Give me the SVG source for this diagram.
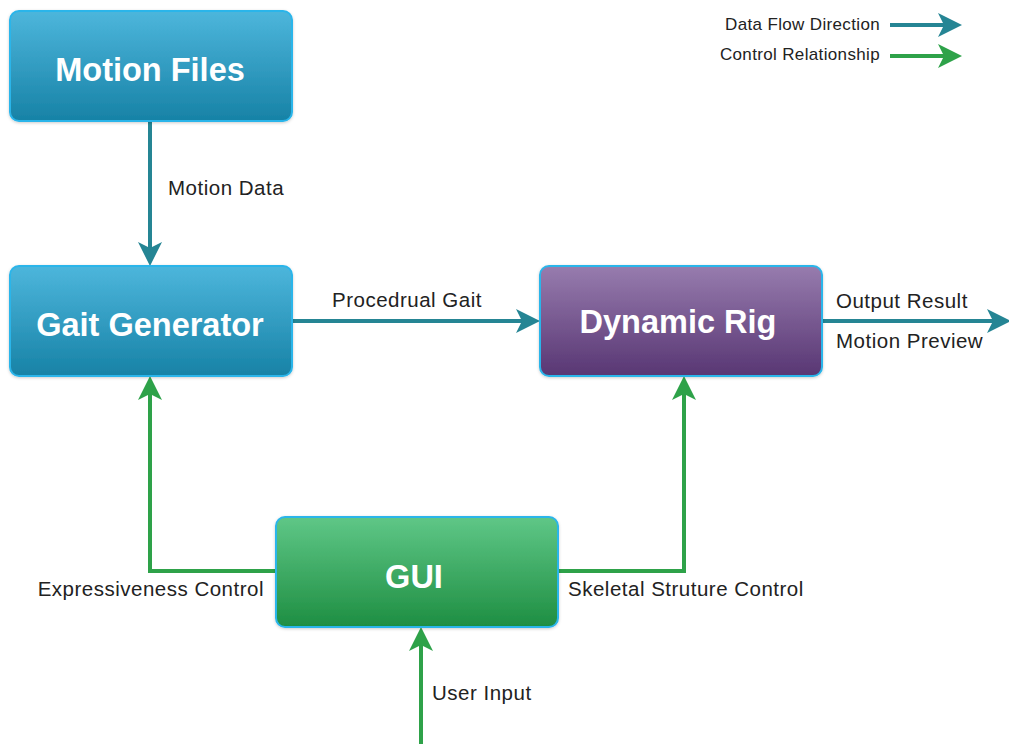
<svg xmlns="http://www.w3.org/2000/svg" width="1009" height="744" viewBox="0 0 1009 744">
  <style>
    .box { stroke: #2bb5ea; stroke-width: 2; }
    .title { font-family: "Liberation Sans", Arial, sans-serif; font-weight: bold; font-size: 32.5px; fill: #ffffff; text-anchor: middle; }
    .lbl { font-family: "Liberation Sans", Arial, sans-serif; font-size: 20.5px; letter-spacing: 0.5px; fill: #222222; }
    .leg { font-family: "Liberation Sans", Arial, sans-serif; font-size: 17px; letter-spacing: 0.35px; fill: #222222; text-anchor: end; }
    .data { fill: none; stroke: #258594; stroke-width: 4; }
    .ctrl { fill: none; stroke: #2ea249; stroke-width: 4; }
  </style>
  <defs>
    <linearGradient id="gBlue" x1="0" y1="0" x2="0" y2="1">
      <stop offset="0" stop-color="#4db6dc"/>
      <stop offset="1" stop-color="#1782a6"/>
    </linearGradient>
    <linearGradient id="gPurple" x1="0" y1="0" x2="0" y2="1">
      <stop offset="0" stop-color="#977cae"/>
      <stop offset="1" stop-color="#583673"/>
    </linearGradient>
    <linearGradient id="gGreen" x1="0" y1="0" x2="0" y2="1">
      <stop offset="0" stop-color="#5fc787"/>
      <stop offset="1" stop-color="#1e8e42"/>
    </linearGradient>
    <filter id="shadow" x="-10%" y="-10%" width="120%" height="130%">
      <feDropShadow dx="0" dy="1" stdDeviation="1.5" flood-color="#000" flood-opacity="0.2"/>
    </filter>
    <marker id="aData" viewBox="0 0 12 12" refX="10" refY="6" markerWidth="6" markerHeight="6" orient="auto" markerUnits="strokeWidth">
      <path d="M0,0 L12,6 L0,12 L3,6 Z" fill="#258594"/>
    </marker>
    <marker id="aCtrl" viewBox="0 0 12 12" refX="10" refY="6" markerWidth="6" markerHeight="6" orient="auto" markerUnits="strokeWidth">
      <path d="M0,0 L12,6 L0,12 L3,6 Z" fill="#2ea249"/>
    </marker>
  </defs>

  <rect width="1009" height="744" fill="#ffffff"/>

  <!-- legend -->
  <g id="legend">
    <text class="leg" x="880" y="30">Data Flow Direction</text>
    <line class="data" x1="890" y1="25" x2="958" y2="25" stroke-width="3" marker-end="url(#aData)"/>
    <text class="leg" x="880" y="60">Control Relationship</text>
    <line class="ctrl" x1="890" y1="56" x2="958" y2="56" stroke-width="3" marker-end="url(#aCtrl)"/>
  </g>

  <!-- connectors -->
  <g id="connectors">
    <line class="data" x1="150" y1="122" x2="150" y2="262" marker-end="url(#aData)"/>
    <text class="lbl" x="168" y="195">Motion Data</text>

    <line class="data" x1="293" y1="321" x2="536" y2="321" marker-end="url(#aData)"/>
    <text class="lbl" x="407" y="307" text-anchor="middle">Procedrual Gait</text>

    <line class="data" x1="823" y1="321" x2="1007" y2="321" marker-end="url(#aData)"/>
    <text class="lbl" x="836" y="308">Output Result</text>
    <text class="lbl" x="836" y="348">Motion Preview</text>

    <polyline class="ctrl" points="276,571 150,571 150,380" marker-end="url(#aCtrl)"/>
    <text class="lbl" x="264" y="596" text-anchor="end">Expressiveness Control</text>

    <polyline class="ctrl" points="558,571 684,571 684,380" marker-end="url(#aCtrl)"/>
    <text class="lbl" x="568" y="596">Skeletal Struture Control</text>

    <line class="ctrl" x1="421" y1="744" x2="421" y2="631" marker-end="url(#aCtrl)"/>
    <text class="lbl" x="432" y="700">User Input</text>
  </g>

  <!-- nodes -->
  <g id="motion-files">
    <rect class="box" x="10" y="11" width="282" height="110" rx="9" fill="url(#gBlue)" filter="url(#shadow)"/>
    <text class="title" x="150" y="81">Motion Files</text>
  </g>
  <g id="gait-generator">
    <rect class="box" x="10" y="266" width="282" height="110" rx="9" fill="url(#gBlue)" filter="url(#shadow)"/>
    <text class="title" x="150" y="336">Gait Generator</text>
  </g>
  <g id="dynamic-rig">
    <rect class="box" x="540" y="266" width="282" height="110" rx="9" fill="url(#gPurple)" filter="url(#shadow)"/>
    <text class="title" x="678" y="333">Dynamic Rig</text>
  </g>
  <g id="gui">
    <rect class="box" x="276" y="517" width="282" height="110" rx="9" fill="url(#gGreen)" filter="url(#shadow)"/>
    <text class="title" x="414" y="588">GUI</text>
  </g>
</svg>
